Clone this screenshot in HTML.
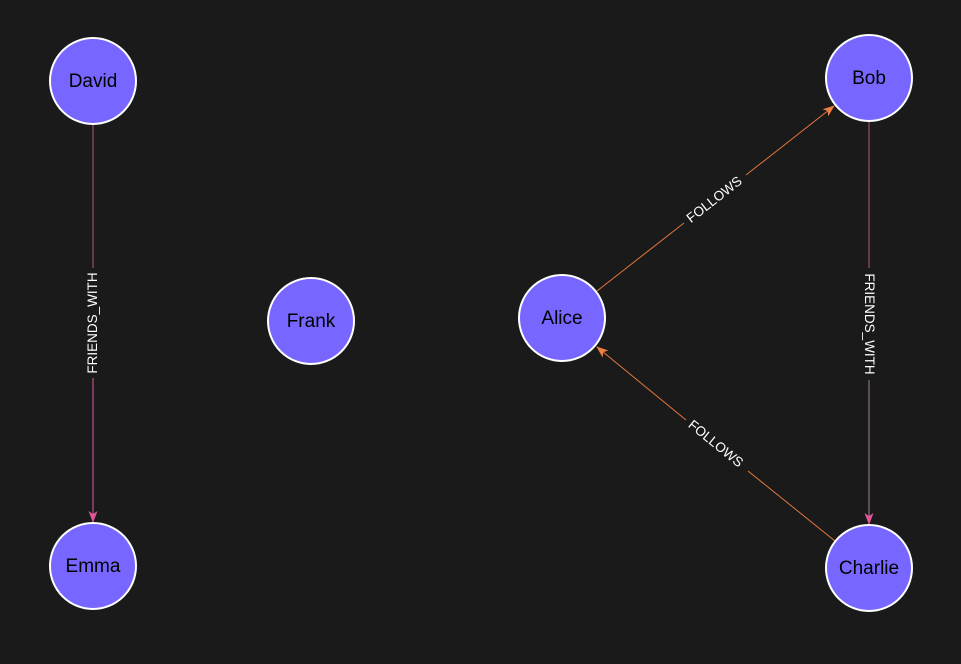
<!DOCTYPE html>
<html><head><meta charset="utf-8"><style>
html,body{margin:0;padding:0;background:#1a1a1a;}
svg{display:block;}
text{font-family:"Liberation Sans",Arial,sans-serif;}
</style></head><body>
<svg width="961" height="664" viewBox="0 0 961 664" xmlns="http://www.w3.org/2000/svg">
<rect width="961" height="664" fill="#1a1a1a"/>
<defs>
<marker id="ap" markerWidth="12" markerHeight="12" refX="11" refY="6" orient="auto" markerUnits="userSpaceOnUse"><path d="M0,1.5 L12,6 L0,10.5 L3,6 z" fill="#e0559a"/></marker>
<marker id="ao" markerWidth="12" markerHeight="12" refX="11" refY="6" orient="auto" markerUnits="userSpaceOnUse"><path d="M0,1.5 L12,6 L0,10.5 L3,6 z" fill="#f08040"/></marker>
</defs>
<line x1="93" y1="124" x2="93" y2="268" stroke="#b05a86" stroke-width="1"/>
<line x1="93" y1="378" x2="93" y2="522" stroke="#c0508a" stroke-width="1.2" marker-end="url(#ap)"/>
<text x="0" y="0" transform="translate(97,323) rotate(-90)" fill="#fff" font-size="13.5" text-anchor="middle">FRIENDS_WITH</text>
<line x1="869" y1="121" x2="869" y2="268" stroke="#b05a86" stroke-width="1"/>
<line x1="869" y1="380" x2="869" y2="524" stroke="#a08090" stroke-width="1" marker-end="url(#ap)"/>
<text x="0" y="0" transform="translate(865,324) rotate(90)" fill="#fff" font-size="13.5" text-anchor="middle">FRIENDS_WITH</text>
<line x1="597" y1="291" x2="684" y2="223" stroke="#e0783c" stroke-width="1"/>
<line x1="746" y1="175" x2="834" y2="106" stroke="#e0783c" stroke-width="1" marker-end="url(#ao)"/>
<text x="0" y="0" transform="translate(717,203) rotate(-38)" fill="#fff" font-size="13.5" text-anchor="middle">FOLLOWS</text>
<line x1="835" y1="541" x2="748" y2="471" stroke="#e0783c" stroke-width="1"/>
<line x1="686" y1="420" x2="597" y2="347" stroke="#e0783c" stroke-width="1" marker-end="url(#ao)"/>
<text x="0" y="0" transform="translate(713,447) rotate(39)" fill="#fff" font-size="13.5" text-anchor="middle">FOLLOWS</text>
<g fill="#7766ff" stroke="#fff" stroke-width="2">
<circle cx="93" cy="81" r="43"/>
<circle cx="93" cy="566" r="43"/>
<circle cx="311" cy="321" r="43"/>
<circle cx="562" cy="318" r="43"/>
<circle cx="869" cy="78" r="43"/>
<circle cx="869" cy="568" r="43"/>
</g>
<g fill="#000" font-size="19" text-anchor="middle">
<text x="93" y="87">David</text>
<text x="93" y="572">Emma</text>
<text x="311" y="327">Frank</text>
<text x="562" y="324">Alice</text>
<text x="869" y="84">Bob</text>
<text x="869" y="574">Charlie</text>
</g>
</svg>
</body></html>
